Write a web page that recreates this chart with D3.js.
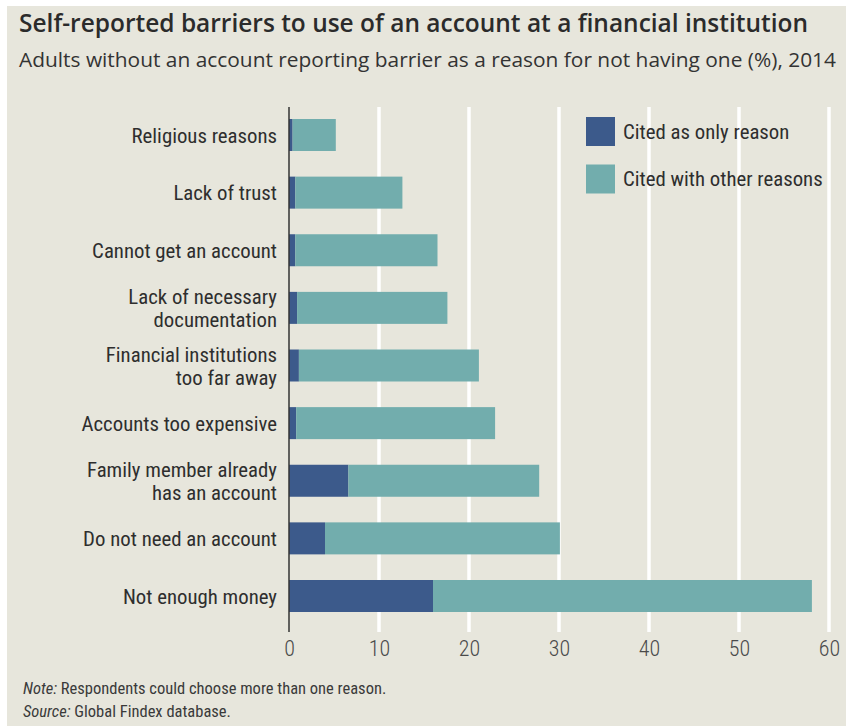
<!DOCTYPE html>
<html>
<head>
<meta charset="utf-8">
<script src="https://cdn.jsdelivr.net/npm/d3@7"></script>
<style>
  html, body { margin: 0; padding: 0; background: #ffffff; }
  svg { display: block; }
</style>
</head>
<body>
<script>
// Barriers to account ownership, Global Findex 2014 (% of adults without an account)
const categories = [
  "Religious reasons",
  "Lack of trust",
  "Cannot get an account",
  "Lack of necessary\ndocumentation",
  "Financial institutions\ntoo far away",
  "Accounts too expensive",
  "Family member already\nhas an account",
  "Do not need an account",
  "Not enough money"
];
const onlyReason       = [0.4, 0.7, 0.7, 0.9, 1.1, 0.8, 6.6, 4.0, 16.0];
const withOtherReasons = [4.8, 11.9, 15.8, 16.7, 20.0, 22.1, 21.2, 26.1, 42.1];
const seriesNames = ["Cited as only reason", "Cited with other reasons"];
const xTicks = [0, 10, 20, 30, 40, 50, 60];

const W = 846, H = 726;
const colors = { only: "#3c5a8b", other: "#72adad", bg: "#e7e6dc", text: "#2e2e2e" };
const narrow = "'Liberation Sans Narrow', 'Arial Narrow', 'Roboto Condensed', sans-serif";
const heading = "'Open Sans', 'Noto Sans', sans-serif";
const labelSize = 20.8;

const svg = d3.select("body").append("svg").attr("width", W).attr("height", H);

svg.append("rect").attr("x", 7).attr("y", 6).attr("width", W - 7).attr("height", H - 6)
  .attr("fill", colors.bg);

// Title block
svg.append("text").attr("x", 19).attr("y", 32)
  .attr("font-family", heading).attr("font-weight", 600).attr("font-size", 25)
  .attr("fill", "#2b2b2b")
  .attr("textLength", 789).attr("lengthAdjust", "spacingAndGlyphs")
  .text("Self-reported barriers to use of an account at a financial institution");

svg.append("text").attr("x", 19).attr("y", 67)
  .attr("font-family", heading).attr("font-size", 20.5)
  .attr("fill", "#333")
  .attr("textLength", 817).attr("lengthAdjust", "spacingAndGlyphs")
  .text("Adults without an account reporting barrier as a reason for not having one (%), 2014");

// Scales
const x = d3.scaleLinear().domain([0, 60]).range([289, 829]);
const y = d3.scalePoint().domain(categories).range([135, 596]);
const barH = 32;
const plotTop = 107, plotBottom = 632;

// Vertical white gridlines
svg.append("g").selectAll("line")
  .data(xTicks.filter(d => d > 0))
  .join("line")
  .attr("x1", d => x(d)).attr("x2", d => x(d))
  .attr("y1", plotTop).attr("y2", plotBottom)
  .attr("stroke", "#ffffff").attr("stroke-width", 3.5);

// Stacked bars
const rows = categories.map((c, i) => ({ cat: c, only: onlyReason[i], other: withOtherReasons[i] }));
const stack = d3.stack().keys(["only", "other"])(rows);
const fills = [colors.only, colors.other];

svg.append("g").selectAll("g")
  .data(stack)
  .join("g")
  .attr("fill", (d, i) => fills[i])
  .selectAll("rect")
  .data(d => d)
  .join("rect")
  .attr("x", d => x(d[0]))
  .attr("width", d => x(d[1]) - x(d[0]))
  .attr("y", d => y(d.data.cat) - barH / 2)
  .attr("height", barH);

// Category axis line
svg.append("line")
  .attr("x1", x(0)).attr("x2", x(0))
  .attr("y1", plotTop).attr("y2", plotBottom)
  .attr("stroke", "#333").attr("stroke-width", 1.5);

// Category labels (right-aligned, one or two lines)
const lab = svg.append("g")
  .attr("font-family", narrow).attr("font-size", labelSize)
  .attr("fill", colors.text).attr("text-anchor", "end");
categories.forEach(c => {
  const lines = c.split("\n");
  const lh = 23;
  const t = lab.append("text").attr("x", 277);
  lines.forEach((ln, k) => {
    t.append("tspan").attr("x", 277)
      .attr("y", y(c) + 7.5 + (k - (lines.length - 1) / 2) * lh)
      .text(ln);
  });
});

// Value axis
const xAxis = d3.axisBottom(x).tickValues(xTicks).tickSize(0).tickPadding(8)
  .tickFormat(d3.format("d"));
const ax = svg.append("g").attr("transform", `translate(0,${plotBottom})`).call(xAxis);
ax.select(".domain").remove();
ax.selectAll("text")
  .attr("font-family", narrow).attr("font-size", 22)
  .attr("font-weight", 300)
  .attr("fill", "#4a4a4a");

// Legend
const leg = svg.append("g");
seriesNames.forEach((name, i) => {
  const ly = 117 + i * 47.5;
  leg.append("rect").attr("x", 586).attr("y", ly).attr("width", 29).attr("height", 29)
    .attr("fill", fills[i]);
  leg.append("text").attr("x", 623).attr("y", ly + 21.5)
    .attr("font-family", narrow).attr("font-size", labelSize).attr("fill", colors.text)
    .text(name);
});

// Notes
const notes = svg.append("g").attr("font-family", narrow).attr("font-size", 16.5).attr("fill", "#3a3a3a");
const n1 = notes.append("text").attr("x", 23).attr("y", 694);
n1.append("tspan").attr("font-style", "italic").text("Note:");
n1.append("tspan").text(" Respondents could choose more than one reason.");
const n2 = notes.append("text").attr("x", 23).attr("y", 717);
n2.append("tspan").attr("font-style", "italic").text("Source:");
n2.append("tspan").text(" Global Findex database.");
</script>
</body>
</html>
